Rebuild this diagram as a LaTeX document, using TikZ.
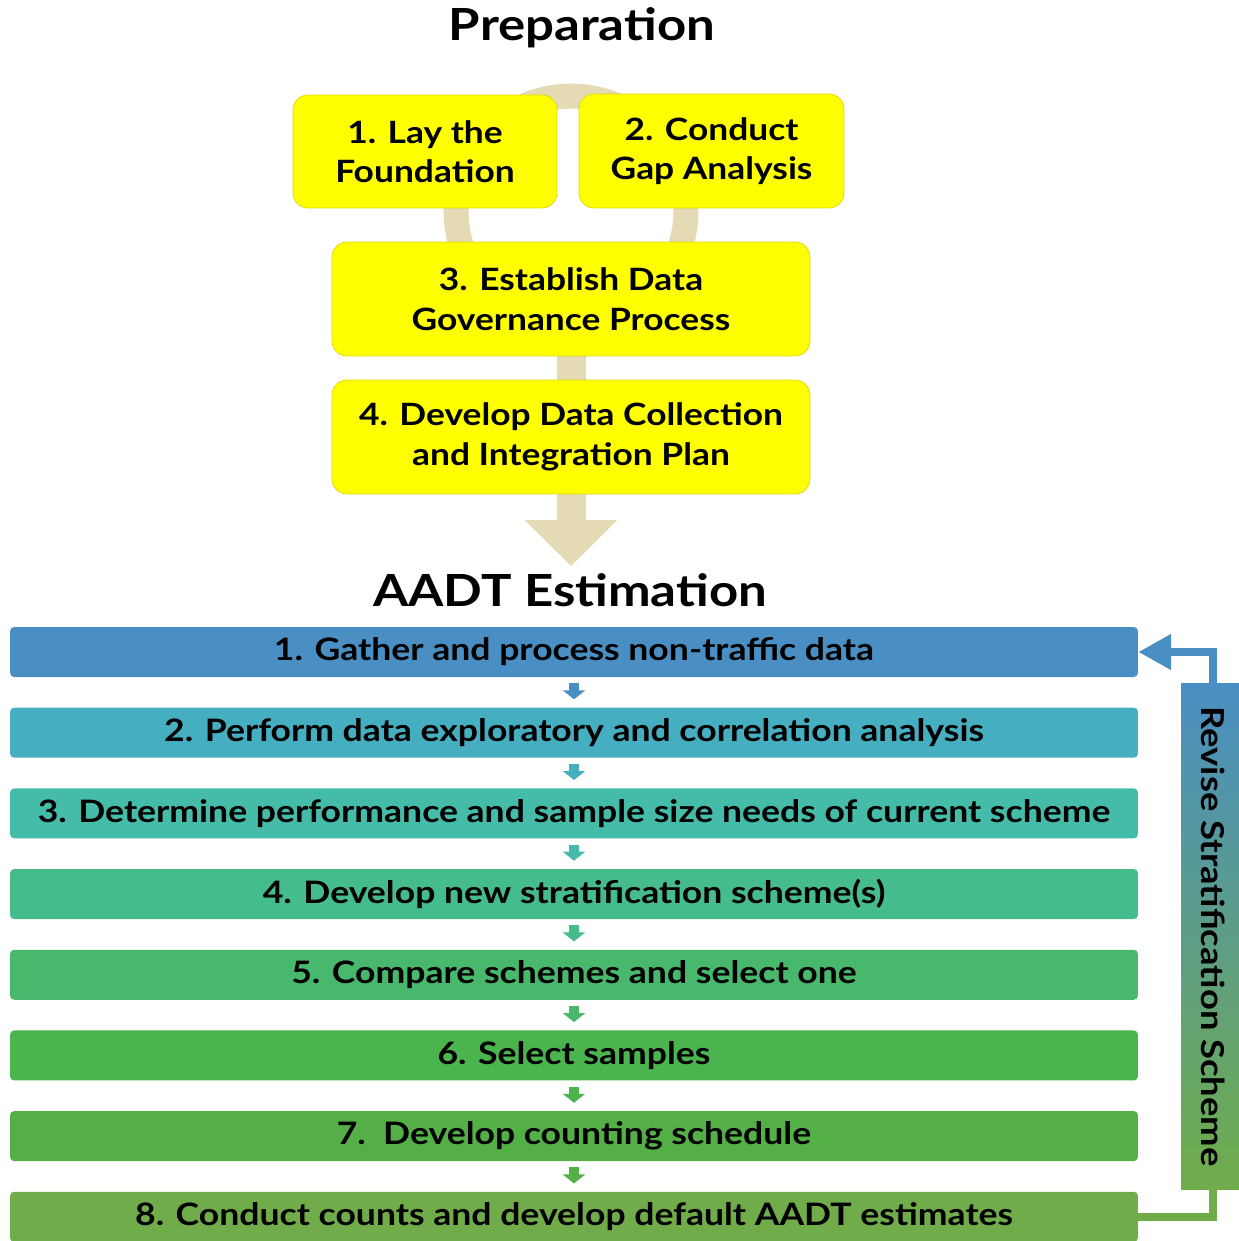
\documentclass[tikz,border=0pt]{standalone}
\usepackage{fontspec}
\setmainfont{Lato}[FakeStretch=1.15]
\usepackage{tikz}
\usetikzlibrary{arrows.meta,positioning,backgrounds}
\definecolor{boxyel}{HTML}{FFFF00}
\definecolor{boxline}{HTML}{E2D600}
\definecolor{stemtan}{HTML}{E4DAB4}
\definecolor{c1}{HTML}{4A8FC3}
\definecolor{c2}{HTML}{45AEC1}
\definecolor{c3}{HTML}{45BCA9}
\definecolor{c4}{HTML}{45BC8C}
\definecolor{c5}{HTML}{47B86C}
\definecolor{c6}{HTML}{4CB44E}
\definecolor{c7}{HTML}{55AF47}
\definecolor{c8}{HTML}{70AC4A}
\definecolor{revmid}{HTML}{4BA49E}

\begin{document}
\begin{tikzpicture}[x=0.02cm,y=-0.02cm,
  prep/.style={draw=boxline,fill=boxyel,rounded corners=0.3cm,align=center,inner sep=2pt,
    font=\bfseries\fontsize{17.5}{22.5}\selectfont},
  bar/.style={fill=#1,rounded corners=0.08cm,minimum width=22.56cm,minimum height=1cm,inner sep=0pt,
    font=\bfseries\fontsize{17.6}{20}\selectfont},
  ttl/.style={font=\bfseries\fontsize{25.2}{30}\selectfont},
  dn/.style={draw=#1,line width=0.2cm,shorten <=0.12cm,shorten >=0.16cm,-{Triangle[width=0.44cm,length=0.18cm]}},
  fb/.style={draw=#1,line width=0.16cm},
  rev/.style={rotate=-90,minimum width=10.14cm,minimum height=1.28cm,inner sep=0pt,
    top color=c1,middle color=revmid,bottom color=c8,font=\bfseries\fontsize{18}{20}\selectfont},
  node distance=0.6cm]
\clip (0,0) rectangle (1239,1241);
% preparation
\draw[stemtan,line width=0.5cm] (571,211) circle[radius=2.3cm];
\node[ttl] (prep) at (582,28) {Preparation};
\node[prep,minimum width=5.28cm,minimum height=2.26cm] (p1) at (425,151.5) {1. Lay the\\Foundation};
\node[prep,minimum width=5.3cm,minimum height=2.28cm] (p2) at (711.5,151) {2. Conduct\\Gap Analysis};
\node[prep,minimum width=9.56cm,minimum height=2.28cm] (p3) at (571,299) {3. Establish Data\\Governance Process};
\node[prep,minimum width=9.56cm,minimum height=2.28cm] (p4) at (571,437) {4. Develop Data Collection\\and Integration Plan};
\coordinate (tip) at (571,566);
\begin{scope}[on background layer]
\draw[stemtan,line width=0.58cm,-{Triangle[width=1.8cm,length=0.92cm]}] (p3.center) -- (tip);
\end{scope}
% estimation
\node[ttl] (aadt) at (570,590) {AADT Estimation};
\node[bar=c1] (s1) at (574,652) {1. Gather and process non-traffic data};
\node[bar=c2,below=of s1] (s2) {2. Perform data exploratory and correlation analysis};
\node[bar=c3,below=of s2] (s3) {3. Determine performance and sample size needs of current scheme};
\node[bar=c4,below=of s3] (s4) {4. Develop new stratification scheme(s)};
\node[bar=c5,below=of s4] (s5) {5. Compare schemes and select one};
\node[bar=c6,below=of s5] (s6) {6. Select samples};
\node[bar=c7,below=of s6] (s7) {7.\ \ Develop counting schedule};
\node[bar=c8,below=of s7] (s8) {8. Conduct counts and develop default AADT estimates};
\draw[dn=c1](s1)--(s2);\draw[dn=c2](s2)--(s3);\draw[dn=c3](s3)--(s4);\draw[dn=c4](s4)--(s5);
\draw[dn=c5](s5)--(s6);\draw[dn=c6](s6)--(s7);\draw[dn=c7](s7)--(s8);
% feedback loop
\node[rev] (rev) at (1213,936.5) {Revise Stratification Scheme};
\draw[fb=c8] (s8.east) -| (rev.east);
\draw[fb=c1,-{Triangle[width=0.68cm,length=0.66cm]}] (rev.west) |- (s1.east);
\end{tikzpicture}
\end{document}
